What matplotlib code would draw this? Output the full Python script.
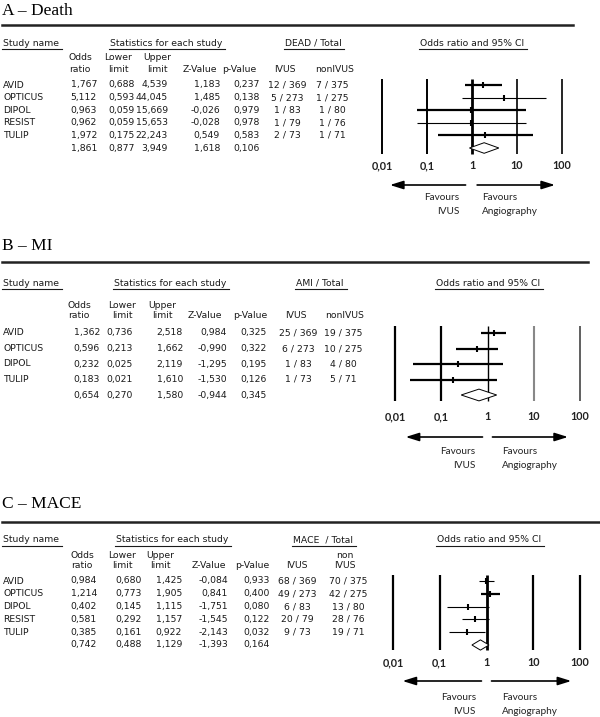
import matplotlib
matplotlib.use('Agg')
import matplotlib.pyplot as plt
from matplotlib.patches import Polygon
from matplotlib.lines import Line2D
from matplotlib.ticker import NullLocator

# ---------------- data ----------------
studies_death = ['AVID', 'OPTICUS', 'DIPOL', 'RESIST', 'TULIP']
or_death = [1.767, 5.112, 0.963, 0.962, 1.972]
lo_death = [0.688, 0.593, 0.059, 0.059, 0.175]
hi_death = [4.539, 44.045, 15.669, 15.653, 22.243]
z_death = [1.183, 1.485, -0.026, -0.028, 0.549]
p_death = [0.237, 0.138, 0.979, 0.978, 0.583]
ivus_death = ['12 / 369', '5 / 273', '1 / 83', '1 / 79', '2 / 73']
non_death = ['7 / 375', '1 / 275', '1 / 80', '1 / 76', '1 / 71']
sum_death = [1.861, 0.877, 3.949, 1.618, 0.106]  # OR, lower, upper, Z, p

studies_mi = ['AVID', 'OPTICUS', 'DIPOL', 'TULIP']
or_mi = [1.362, 0.596, 0.232, 0.183]
lo_mi = [0.736, 0.213, 0.025, 0.021]
hi_mi = [2.518, 1.662, 2.119, 1.610]
z_mi = [0.984, -0.990, -1.295, -1.530]
p_mi = [0.325, 0.322, 0.195, 0.126]
ivus_mi = ['25 / 369', '6 / 273', '1 / 83', '1 / 73']
non_mi = ['19 / 375', '10 / 275', '4 / 80', '5 / 71']
sum_mi = [0.654, 0.270, 1.580, -0.944, 0.345]

studies_mace = ['AVID', 'OPTICUS', 'DIPOL', 'RESIST', 'TULIP']
or_mace = [0.984, 1.214, 0.402, 0.581, 0.385]
lo_mace = [0.680, 0.773, 0.145, 0.292, 0.161]
hi_mace = [1.425, 1.905, 1.115, 1.157, 0.922]
z_mace = [-0.084, 0.841, -1.751, -1.545, -2.143]
p_mace = [0.933, 0.400, 0.080, 0.122, 0.032]
ivus_mace = ['68 / 369', '49 / 273', '6 / 83', '20 / 79', '9 / 73']
non_mace = ['70 / 375', '42 / 275', '13 / 80', '28 / 76', '19 / 71']
sum_mace = [0.742, 0.488, 1.129, -1.393, 0.164]

decades = [0.01, 0.1, 1, 10, 100]
decade_labels = ['0,01', '0,1', '1', '10', '100']

# ---------------- layout ----------------
W, H = 600, 717
fig = plt.figure(figsize=(6, 7.17), dpi=100)
TXT = '#1a1a1a'
TF = 'DejaVu Sans'
TS = 6.7

def fx(x):
    return x / W

def fy(y):
    return 1 - y / H

def fmt(v):
    return f'{v:.3f}'.replace('.', ',')

panels = [
    dict(title='A – Death', total='DEAD / Total', non_head='nonIVUS',
         studies=studies_death, orv=or_death, lo=lo_death, hi=hi_death, z=z_death, p=p_death,
         ivus=ivus_death, non=non_death, summ=sum_death,
         title_y=15, rule_y=25, rule_x=(2, 573), head_y=43,
         head_x=dict(stats=166, total=313, ci=472), colhead_y=(58, 70),
         hcx=[80, 118, 157, 200, 239, 285, 335],
         colr=[97, 135, 168, 220, 260], ivus_c=287, non_c=332,
         row0=85, step=12.6, x01=382, x100=562, ytop=79, ybot=154, tick_y=165,
         arrow_y=185, arr_l=(0.72, 0.015), arr_r=(1.3, 70),
         fav_y=(198, 212), fav_l=459, fav_r=482,
         ci_lw=[1.6, 0.8, 1.6, 0.8, 1.6],
         dec_lw=[1.4, 1.4, 2.0, 1.2, 1.2], dec_c=['k', 'k', 'k', 'k', 'k'], dh=0.42),
    dict(title='B – MI', total='AMI / Total', non_head='nonIVUS',
         studies=studies_mi, orv=or_mi, lo=lo_mi, hi=hi_mi, z=z_mi, p=p_mi,
         ivus=ivus_mi, non=non_mi, summ=sum_mi,
         title_y=250, rule_y=262, rule_x=(2, 588), head_y=283,
         head_x=dict(stats=170, total=320, ci=488), colhead_y=(305, 316),
         hcx=[79, 122, 162, 205, 250, 296, 345],
         colr=[100, 133, 183, 227, 267], ivus_c=298, non_c=343,
         row0=333, step=15.5, x01=395, x100=580, ytop=326, ybot=401, tick_y=416,
         arrow_y=437, arr_l=(0.78, 0.017), arr_r=(1.28, 55),
         fav_y=(451, 466), fav_l=475, fav_r=502,
         ci_lw=[1.6, 1.6, 1.6, 1.6],
         dec_lw=[1.6, 1.6, 1.0, 1.5, 1.2], dec_c=['k', 'k', 'k', '#888888', '#444444'], dh=0.38),
    dict(title='C – MACE', total='MACE  / Total', non_head='non\nIVUS',
         studies=studies_mace, orv=or_mace, lo=lo_mace, hi=hi_mace, z=z_mace, p=p_mace,
         ivus=ivus_mace, non=non_mace, summ=sum_mace,
         title_y=508, rule_y=522, rule_x=(2, 600), head_y=540,
         head_x=dict(stats=172, total=323, ci=489), colhead_y=(555, 566),
         hcx=[82, 122, 160, 209, 252, 297, 345],
         colr=[97, 142, 182, 228, 270], ivus_c=297, non_c=348,
         row0=581, step=12.8, x01=393, x100=580, ytop=575, ybot=650, tick_y=662,
         arrow_y=681, arr_l=(0.78, 0.016), arr_r=(1.28, 65),
         fav_y=(697, 712), fav_l=476, fav_r=502,
         ci_lw=[0.8, 1.6, 0.8, 0.8, 0.8],
         dec_lw=[1.6, 1.6, 2.0, 1.6, 1.6], dec_c=['k', 'k', 'k', 'k', 'k'], dh=0.4),
]

underlined = []

for P in panels:
    # title and rule
    fig.text(fx(2), fy(P['title_y']), P['title'], family='Liberation Serif', fontsize=12.5,
             color='k', ha='left', va='baseline')
    fig.add_artist(Line2D([fx(P['rule_x'][0]), fx(P['rule_x'][1])], [fy(P['rule_y'])] * 2,
                          color='#222222', lw=1.8, transform=fig.transFigure))
    # group headers
    hy = fy(P['head_y'])
    underlined.append(fig.text(fx(3), hy, 'Study name', family=TF, fontsize=TS, color=TXT,
                               ha='left', va='center'))
    for key, label in (('stats', 'Statistics for each study'), ('total', P['total']),
                       ('ci', 'Odds ratio and 95% CI')):
        underlined.append(fig.text(fx(P['head_x'][key]), hy, label, family=TF, fontsize=TS,
                                   color=TXT, ha='center', va='center'))
    # column headers
    y1, y2 = P['colhead_y']
    two = [('Odds', 'ratio'), ('Lower', 'limit'), ('Upper', 'limit')]
    for (a, b), cx in zip(two, P['hcx'][:3]):
        fig.text(fx(cx), fy(y1), a, family=TF, fontsize=TS, color=TXT, ha='center', va='center')
        fig.text(fx(cx), fy(y2), b, family=TF, fontsize=TS, color=TXT, ha='center', va='center')
    for lab, cx in zip(['Z-Value', 'p-Value', 'IVUS'], P['hcx'][3:6]):
        fig.text(fx(cx), fy(y2), lab, family=TF, fontsize=TS, color=TXT, ha='center', va='center')
    nh = P['non_head'].split('\n')
    if len(nh) == 2:
        fig.text(fx(P['hcx'][6]), fy(y1), nh[0], family=TF, fontsize=TS, color=TXT, ha='center', va='center')
        fig.text(fx(P['hcx'][6]), fy(y2), nh[1], family=TF, fontsize=TS, color=TXT, ha='center', va='center')
    else:
        fig.text(fx(P['hcx'][6]), fy(y2), nh[0], family=TF, fontsize=TS, color=TXT, ha='center', va='center')

    # table rows
    n = len(P['studies'])
    for i in range(n + 1):
        ry = fy(P['row0'] + P['step'] * i)
        if i < n:
            vals = [P['orv'][i], P['lo'][i], P['hi'][i], P['z'][i], P['p'][i]]
            fig.text(fx(3), ry, P['studies'][i], family=TF, fontsize=TS, color=TXT, ha='left', va='center')
            fig.text(fx(P['ivus_c']), ry, P['ivus'][i], family=TF, fontsize=TS, color=TXT, ha='center', va='center')
            fig.text(fx(P['non_c']), ry, P['non'][i], family=TF, fontsize=TS, color=TXT, ha='center', va='center')
        else:
            vals = P['summ']
        for v, cr in zip(vals, P['colr']):
            fig.text(fx(cr), ry, fmt(v), family=TF, fontsize=TS, color=TXT, ha='right', va='center')

    # forest plot axes
    ax = fig.add_axes([fx(P['x01']), fy(P['ybot']), (P['x100'] - P['x01']) / W,
                       (P['ybot'] - P['ytop']) / H])
    ax.set_xscale('log')
    ax.set_xlim(decades[0], decades[-1])
    y_bot = (P['ybot'] - P['row0']) / P['step']
    y_top = (P['ytop'] - P['row0']) / P['step']
    ax.set_ylim(y_bot, y_top)
    ax.patch.set_visible(False)
    for s in ax.spines.values():
        s.set_visible(False)
    ax.set_yticks([])
    ax.set_xticks(decades)
    ax.set_xticklabels(decade_labels, family='Lato', fontweight='bold', fontsize=7.8, color='#222222')
    ax.xaxis.set_minor_locator(NullLocator())
    pad_px = P['tick_y'] - P['ybot'] - 5
    ax.tick_params(axis='x', length=0, pad=pad_px * 0.72)
    for d, lw, c in zip(decades, P['dec_lw'], P['dec_c']):
        ax.plot([d, d], [y_bot, y_top], color=c, lw=lw, zorder=1, clip_on=False,
                solid_capstyle='butt')
    for i in range(n):
        ax.plot([P['lo'][i], P['hi'][i]], [i, i], color='k', lw=P['ci_lw'][i],
                solid_capstyle='butt', clip_on=False, zorder=2)
        ax.plot([P['orv'][i]], [i], marker='|', ms=5, mew=1.5, color='k', clip_on=False, zorder=3)
    o, l, h = P['summ'][0], P['summ'][1], P['summ'][2]
    dh = P['dh']
    ax.add_patch(Polygon([(l, n), (o, n - dh), (h, n), (o, n + dh)], closed=True,
                         facecolor='white', edgecolor='k', lw=0.7, zorder=4, clip_on=False))
    # arrows
    ay = (P['arrow_y'] - P['row0']) / P['step']
    for (x0, x1) in (P['arr_l'], P['arr_r']):
        ax.annotate('', xy=(x1, ay), xytext=(x0, ay), xycoords='data', annotation_clip=False,
                    arrowprops=dict(arrowstyle='-|>,head_length=0.8,head_width=0.25',
                                    color='k', lw=1.2, shrinkA=0, shrinkB=0))
    fy1, fy2 = P['fav_y']
    fig.text(fx(P['fav_l']), fy(fy1), 'Favours', family='Lato', fontsize=7.2, color='#222222', ha='right', va='center')
    fig.text(fx(P['fav_l']), fy(fy2), 'IVUS', family='Lato', fontsize=7.2, color='#222222', ha='right', va='center')
    fig.text(fx(P['fav_r']), fy(fy1), 'Favours', family='Lato', fontsize=7.2, color='#222222', ha='left', va='center')
    fig.text(fx(P['fav_r']), fy(fy2), 'Angiography', family='Lato', fontsize=7.2, color='#222222', ha='left', va='center')

# underline group headers
fig.canvas.draw()
r = fig.canvas.get_renderer()
for t in underlined:
    bb = t.get_window_extent(r)
    yline = (bb.y0 - 1) / fig.bbox.height
    fig.add_artist(Line2D([(bb.x0 - 1) / fig.bbox.width, (bb.x1 + 3) / fig.bbox.width], [yline, yline],
                          color=TXT, lw=0.8, transform=fig.transFigure))

fig.savefig('out.png', dpi=100)
